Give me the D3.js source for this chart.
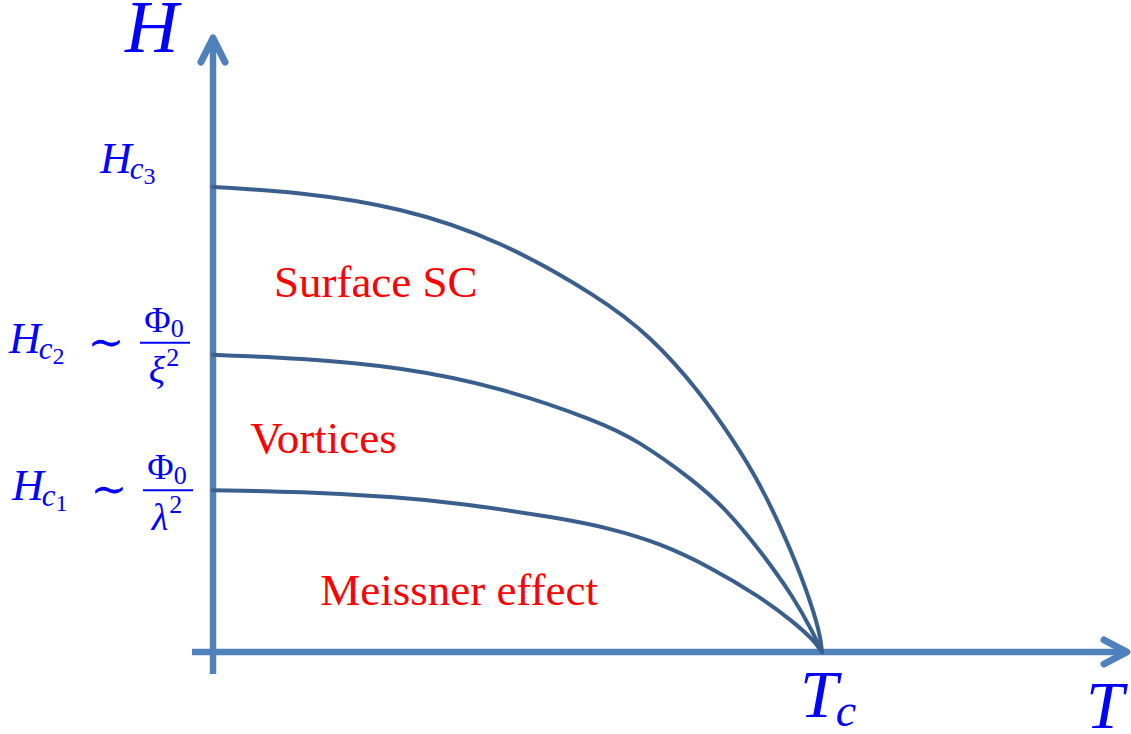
<!DOCTYPE html>
<html>
<head>
<meta charset="utf-8">
<script src="https://cdn.jsdelivr.net/npm/d3@7"></script>
<style>
  html, body { margin: 0; padding: 0; background: #fff; }
  svg { display: block; }
</style>
</head>
<body>
<svg id="chart"></svg>
<script>
// critical field curves H(T), T in % of Tc, H in % of Hc3
const hc3Points = [[0, 100], [14.3, 98.9], [30.7, 95.7], [47.1, 88.6], [63.5, 76.3],
	[71.8, 68.0], [80.0, 55.9], [85.4, 45.6], [89.8, 36.3], [94.2, 24.1], [97.5, 13.3],
	[99.7, 4.0], [100, 0]];
const hc2Points = [[0, 63.9], [14.3, 63.2], [30.7, 61.3], [47.1, 57.0], [63.5, 49.5],
	[69.6, 45.6], [78.9, 37.0], [84.4, 30.5], [89.8, 21.9], [95.3, 11.9], [98.6, 4.0],
	[100, 0]];
const hc1Points = [[0, 34.8], [14.3, 34.5], [30.7, 33.3], [40.6, 32.0], [57.0, 28.8],
	[65.2, 26.6], [73.4, 23.4], [81.6, 18.3], [89.8, 11.9], [95.3, 6.5], [98.6, 2.6],
	[100, 0]];
const curves = [hc3Points, hc2Points, hc1Points];

const criticalFields = [100, 63.9, 34.8]; // Hc3, Hc2, Hc1
const tc = 100;
const regionLabels = ['Surface SC', 'Vortices', 'Meissner effect'];
const regionAnchors = [[10, 76.3], [6.1, 42.8], [17.6, 10.1]];

const serif = "'Liberation Serif', 'Times New Roman', 'DejaVu Serif', serif";
const mathBlue = '#0000ff';

const width = 1131;
const height = 734;

const scaleX = d3.scaleLinear().domain([0, 100]).range([213, 822]);
const scaleY = d3.scaleLinear().domain([0, 100]).range([652, 187]);

const tMax = scaleX.invert(1127);
const hMax = scaleY.invert(38);

const $svg = d3.select('#chart')
	.attr('width', width)
	.attr('height', height);

// axes
const axisColor = '#4f81bd';
const $axes = $svg.append('g').attr('class', 'axes')
	.style('stroke', axisColor)
	.style('fill', 'none');

$axes.append('line')
	.attr('x1', scaleX(0)).attr('x2', scaleX(0))
	.attr('y1', scaleY(0) + 22).attr('y2', scaleY(hMax) + 2)
	.attr('stroke-width', 6.5);

$axes.append('line')
	.attr('x1', scaleX(0) - 21).attr('x2', scaleX(tMax) - 2)
	.attr('y1', scaleY(0)).attr('y2', scaleY(0))
	.attr('stroke-width', 6.5);

// arrow heads
$axes.append('path')
	.attr('d', 'M' + (scaleX(0) - 12) + ',' + (scaleY(hMax) + 24) +
		'L' + scaleX(0) + ',' + scaleY(hMax) +
		'L' + (scaleX(0) + 12) + ',' + (scaleY(hMax) + 24))
	.attr('stroke-width', 7)
	.attr('stroke-linecap', 'round')
	.attr('stroke-linejoin', 'round');

$axes.append('path')
	.attr('d', 'M' + (scaleX(tMax) - 23) + ',' + (scaleY(0) - 12) +
		'L' + scaleX(tMax) + ',' + scaleY(0) +
		'L' + (scaleX(tMax) - 23) + ',' + (scaleY(0) + 12))
	.attr('stroke-width', 7)
	.attr('stroke-linecap', 'round')
	.attr('stroke-linejoin', 'round');

// curves
const line = d3.line()
	.x(d => scaleX(d[0]))
	.y(d => scaleY(d[1]))
	.curve(d3.curveBasis);

$svg.append('g').selectAll('path')
	.data(curves)
	.enter()
	.append('path')
	.attr('d', line)
	.style('fill', 'none')
	.style('stroke', '#3a5f8d')
	.style('stroke-width', 4)
	.style('stroke-linecap', 'round');

// region labels
$svg.append('g').selectAll('text')
	.data(regionLabels)
	.enter()
	.append('text')
	.attr('x', (d, i) => scaleX(regionAnchors[i][0]))
	.attr('y', (d, i) => scaleY(regionAnchors[i][1]))
	.attr('font-family', serif)
	.attr('fill', '#ff0000')
	.style('font-size', '45px')
	.text(d => d);

function mathText(x, y, size) {
	return $svg.append('text')
		.attr('x', x).attr('y', y)
		.attr('font-family', serif)
		.attr('fill', mathBlue)
		.style('font-size', size + 'px');
}

// axis titles
mathText(125, 52, 74).style('font-style', 'italic').text('H');
mathText(1086, 728, 68).style('font-style', 'italic').text('T');

// Tc
const $tc = mathText(scaleX(tc) - 22, 717, 68).style('font-style', 'italic');
$tc.append('tspan').text('T');
$tc.append('tspan').attr('dx', -2).attr('dy', 9).style('font-size', '46px').text('c');

// H_c_n label
function hLabel(x, baseline, n) {
	const $t = mathText(x, baseline, 44).style('font-style', 'italic');
	$t.append('tspan').text('H');
	$t.append('tspan').attr('dx', -2).attr('dy', 6).style('font-size', '31px').text('c');
	$t.append('tspan').attr('dy', 5).style('font-size', '24px').style('font-style', 'normal').text(n);
}

// Phi_0 / denominator
function fraction(xLeft, lineY, denom) {
	$svg.append('line')
		.attr('x1', xLeft).attr('x2', xLeft + 50)
		.attr('y1', lineY).attr('y2', lineY)
		.style('stroke', mathBlue).style('stroke-width', 2);
	const $num = mathText(xLeft + 24, lineY - 11, 36).attr('text-anchor', 'middle');
	$num.append('tspan').text('\u03A6');
	$num.append('tspan').attr('dy', 5).style('font-size', '26px').text('0');
	const $den = mathText(xLeft + 24, lineY + 40, 38).attr('text-anchor', 'middle');
	$den.append('tspan').style('font-style', 'italic').text(denom);
	$den.append('tspan').attr('dx', 1).attr('dy', -17).style('font-size', '26px').text('2');
}

function tilde(x, centerY) {
	mathText(x, centerY + 13, 44)
		.attr('text-anchor', 'middle')
		.attr('font-family', 'DejaVu Serif')
		.text('\u223C');
}

hLabel(100, scaleY(criticalFields[0]) - 14, '3');

hLabel(9, scaleY(criticalFields[1]) - 2, '2');
tilde(106, scaleY(criticalFields[1]) - 11);
fraction(140, scaleY(criticalFields[1]) - 12, '\u03BE');

hLabel(12, scaleY(criticalFields[2]) + 10, '1');
tilde(109, scaleY(criticalFields[2]) + 1);
fraction(143, scaleY(criticalFields[2]), '\u03BB');
</script>
</body>
</html>
